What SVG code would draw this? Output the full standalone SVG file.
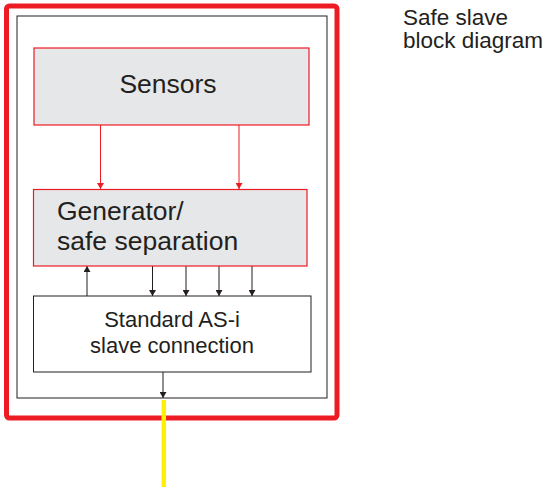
<svg xmlns="http://www.w3.org/2000/svg" width="556" height="487" viewBox="0 0 556 487">
<style>
text{font-family:"Liberation Sans",Arial,sans-serif;fill:#231f20}
.big{font-size:26.5px}
.mid{font-size:22px}
.lbl{font-size:22.5px}
.box{fill:#e6e7e8;stroke:#ed1c24;stroke-width:1.2}
.plain{fill:#fff;stroke:#231f20;stroke-width:1}
.rl{stroke:#ed1c24;stroke-width:1;fill:none}
.bl{stroke:#231f20;stroke-width:1;fill:none}
</style>
<defs>
<marker id="ar" viewBox="0 0 6 7" refX="6" refY="3.5" markerWidth="6" markerHeight="7" markerUnits="userSpaceOnUse" orient="auto"><path d="M0,0 L6,3.5 L0,7 z" fill="#ed1c24"/></marker>
<marker id="ab" viewBox="0 0 6 7" refX="6" refY="3.5" markerWidth="6" markerHeight="7" markerUnits="userSpaceOnUse" orient="auto"><path d="M0,0 L6,3.5 L0,7 z" fill="#231f20"/></marker>
</defs>
<g id="outer">
<rect x="6.5" y="6" width="330.5" height="412" rx="3" fill="#fff" stroke="#ed1c24" stroke-width="5"/>
<rect x="17" y="16" width="310" height="382" class="plain"/>
</g>
<g id="connectors">
<line x1="100.5" y1="125" x2="100.5" y2="189" class="rl" marker-end="url(#ar)"/>
<line x1="239" y1="125" x2="239" y2="189" class="rl" marker-end="url(#ar)"/>
<line x1="87" y1="296" x2="87" y2="266" class="bl" marker-end="url(#ab)"/>
<line x1="152.5" y1="266" x2="152.5" y2="296" class="bl" marker-end="url(#ab)"/>
<line x1="186" y1="266" x2="186" y2="296" class="bl" marker-end="url(#ab)"/>
<line x1="219" y1="266" x2="219" y2="296" class="bl" marker-end="url(#ab)"/>
<line x1="252" y1="266" x2="252" y2="296" class="bl" marker-end="url(#ab)"/>
<line x1="163" y1="372" x2="163" y2="398" class="bl" marker-end="url(#ab)"/>
<line x1="163.8" y1="400" x2="163.8" y2="487" stroke="#fff200" stroke-width="4.5"/>
</g>
<g id="sensors">
<rect x="34" y="48" width="275" height="77" class="box"/>
<text x="168" y="93" class="big" text-anchor="middle">Sensors</text>
</g>
<g id="generator">
<rect x="33.5" y="189.5" width="273.5" height="76.5" class="box"/>
<text x="57" y="220" class="big">Generator/</text>
<text x="57" y="250" class="big">safe separation</text>
</g>
<g id="standard">
<rect x="33.5" y="296" width="277.5" height="76" class="plain"/>
<text x="172" y="327" class="mid" text-anchor="middle">Standard AS-i</text>
<text x="172" y="353" class="mid" text-anchor="middle">slave connection</text>
</g>
<g id="title">
<text x="403" y="25" class="lbl">Safe slave</text>
<text x="403" y="48" class="lbl">block diagram</text>
</g>
</svg>
